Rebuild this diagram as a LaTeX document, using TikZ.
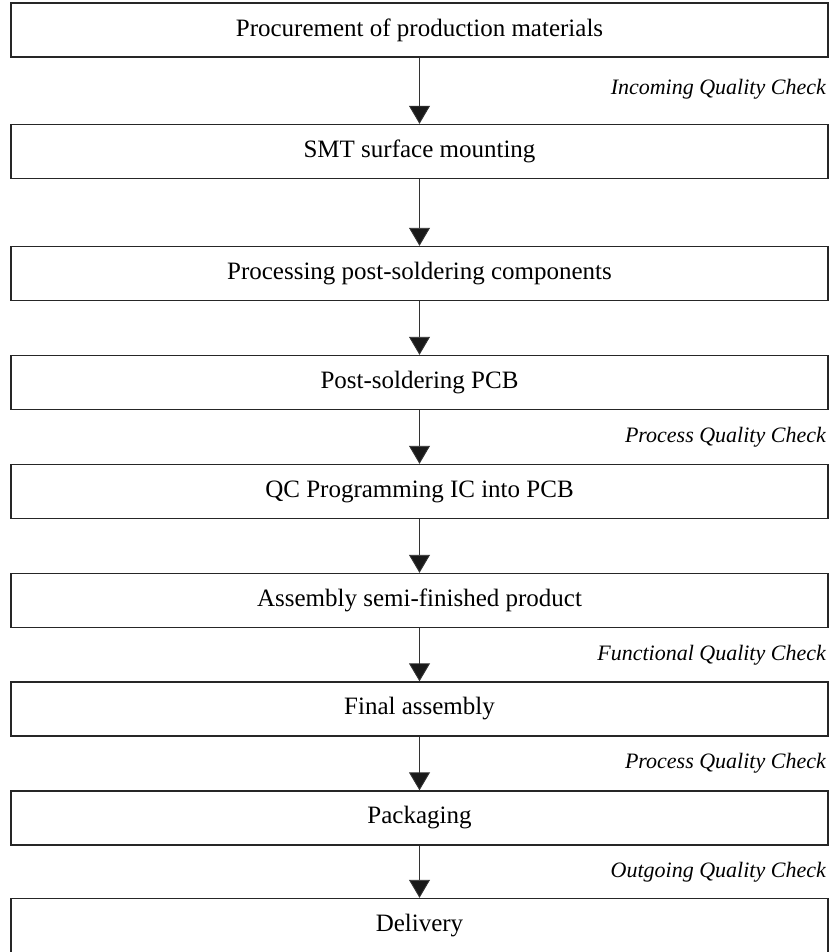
\documentclass[tikz,border=0pt]{standalone}
\usepackage{fontspec}
\setmainfont{Liberation Serif}
\usetikzlibrary{arrows.meta}
\begin{document}
\begin{tikzpicture}[x=1pt,y=-1pt,
  stepbox/.style={draw=black!85,line width=1.4pt,minimum width=817pt,minimum height=54pt,
    inner sep=0pt,font=\fontsize{25}{30}\selectfont},
  flow/.style={draw=black!80,line width=0.9pt,
    -{Triangle[width=21pt,length=18pt,fill=black!90]}},
  check/.style={anchor=east,inner sep=0pt,font=\fontsize{22}{26}\selectfont\itshape}]
\useasboundingbox (0,0) rectangle (830,952);
% process steps, top to bottom
\node[stepbox] (s1) at (419.5,30)    {Procurement of production materials};
\node[stepbox] (s2) at (419.5,151.5) {SMT surface mounting};
\node[stepbox] (s3) at (419.5,273.5) {Processing post-soldering components};
\node[stepbox] (s4) at (419.5,382.5) {Post-soldering PCB};
\node[stepbox] (s5) at (419.5,491.5) {QC Programming IC into PCB};
\node[stepbox] (s6) at (419.5,600.5) {Assembly semi-finished product};
\node[stepbox] (s7) at (419.5,709)   {Final assembly};
\node[stepbox] (s8) at (419.5,818)   {Packaging};
\node[stepbox] (s9) at (419.5,925.5) {Delivery};
% connectors
\draw[flow] (s1) -- (s2);
\draw[flow] (s2) -- (s3);
\draw[flow] (s3) -- (s4);
\draw[flow] (s4) -- (s5);
\draw[flow] (s5) -- (s6);
\draw[flow] (s6) -- (s7);
\draw[flow] (s7) -- (s8);
\draw[flow] (s8) -- (s9);
% quality checks beside the connectors
\node[check] (q1) at (826,89)    {Incoming Quality Check};
\node[check] (q2) at (826,437)   {Process Quality Check};
\node[check] (q3) at (826,655)   {Functional Quality Check};
\node[check] (q4) at (826,763.5) {Process Quality Check};
\node[check] (q5) at (826,872.5) {Outgoing Quality Check};
\end{tikzpicture}
\end{document}
